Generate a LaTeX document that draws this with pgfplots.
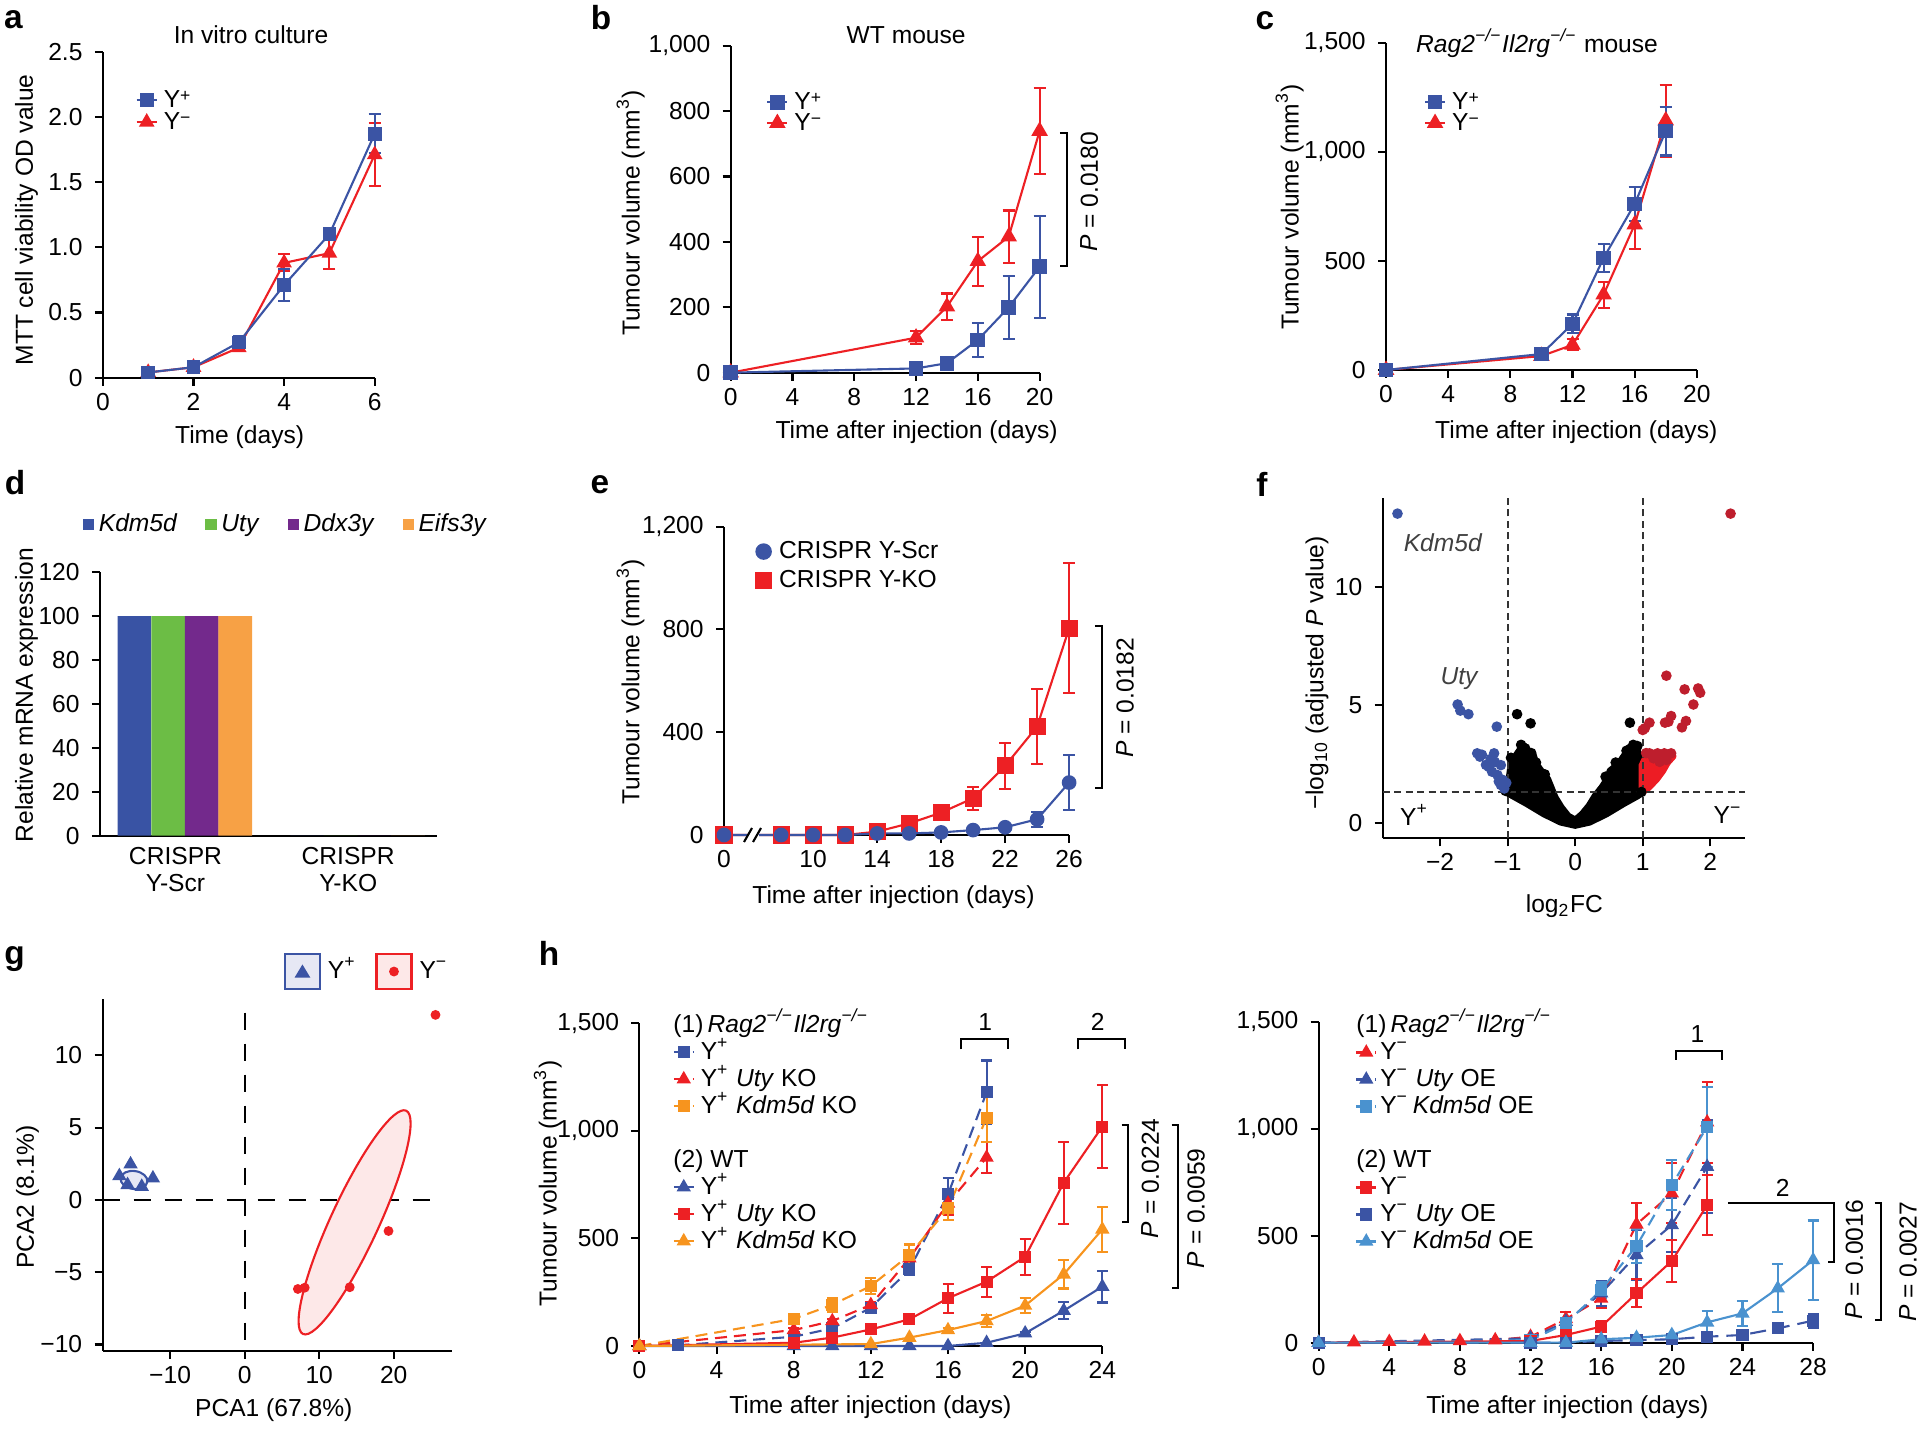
\documentclass[border=0pt]{standalone}
\usepackage{fontspec}
\setmainfont{Liberation Sans}
\usepackage{pgfplots}
\pgfplotsset{compat=1.18}

\definecolor{cblue}{RGB}{59,84,164}
\definecolor{cred}{RGB}{237,32,36}
\definecolor{corange}{RGB}{247,148,30}
\definecolor{clblue}{RGB}{74,146,207}
\definecolor{dblue}{RGB}{57,83,164}
\definecolor{dgreen}{RGB}{108,189,69}
\definecolor{dpurple}{RGB}{115,41,140}
\definecolor{dorange}{RGB}{247,161,69}
\definecolor{fred}{RGB}{190,30,45}
\definecolor{fbright}{RGB}{237,28,36}
\definecolor{gpink}{RGB}{253,232,232}
\definecolor{glblue}{RGB}{230,232,244}
\definecolor{fgrey}{RGB}{64,64,64}

\newcommand\fs{\fontsize{7}{8.4}\selectfont}
% small raised sign, kept inside the cap height
\newcommand\sgn[1]{\raisebox{1.6pt}{\fontsize{5}{5}\selectfont #1}}

\pgfplotsset{
  nat/.style={
    scale only axis, clip=false, anchor=south west,
    axis x line=bottom, axis y line=left,
    axis line style={-, line width=0.6pt},
    tick style={line width=0.6pt, black},
    tick align=outside, major tick length=0.8mm,
    tick label style={font=\fs},
    xticklabel style={yshift=0.5mm},
    label style={font=\fs},
    title style={font=\fs},
    every axis title shift=0pt,
    /pgf/number format/assume math mode=true,
    legend style={font=\fs, draw=none, fill=none, inner sep=0pt, row sep=0.2mm,
      nodes={inner sep=0pt, text height=1.7mm, text depth=0.3mm},
      /tikz/every odd column/.append style={column sep=0.6mm}},
    legend cell align=left,
    legend image code/.code={\draw[mark repeat=2, mark phase=2, #1] plot coordinates {(0mm,0mm) (1mm,0mm) (2mm,0mm)};},
    every axis plot/.append style={line width=0.6pt},
  },
  twoleg/.style={legend style={row sep=0.2mm, nodes={inner sep=0pt, text height=1.7mm, text depth=0.3mm}}},
  eb/.style={
    error bars/y dir=both, error bars/y explicit,
    error bars/error bar style={line width=0.6pt, solid},
    error bars/error mark options={rotate=90, mark size=0.6mm, line width=0.6pt, solid},
  },
  ebh/.style={
    error bars/y dir=both, error bars/y explicit,
    error bars/error bar style={line width=0.6pt, solid},
    error bars/error mark options={rotate=90, mark size=0.55mm, line width=0.6pt, solid},
  },
  rdash/.style={dash pattern=on 1.2mm off 0.7mm, mark options={solid}},
}

\begin{document}
\begin{tikzpicture}
\path[use as bounding box] (0,0) rectangle (192.3mm,143mm);

% ---------------- a
\begin{axis}[nat, twoleg, at={(10.29mm,105.23mm)}, width=27.18mm, height=32.6mm,
  xmin=0, xmax=6, ymin=0, ymax=2.5,
  xtick={0,2,4,6}, xticklabels={0,2,4,6},
  ytick={0,0.5,1,1.5,2,2.5}, yticklabels={0,0.5,1.0,1.5,2.0,2.5},
  xlabel={Time (days)}, xlabel style={at={(axis description cs:0.503,-0.182)}, anchor=center},
  ylabel={MTT cell viability OD value}, ylabel style={at={(axis description cs:-0.281,0.484)}, anchor=center},
  title={In vitro culture}, title style={at={(axis description cs:0.545,1.051)}, anchor=center},
  legend style={at={(axis description cs:0.118,0.884)}, anchor=north west},
  reverse legend]
\addplot[cred, mark=triangle*, mark size=0.7mm, eb] coordinates {
  (1,0.04) +- (0,0.01) (2,0.08) +- (0,0.01) (3,0.23) +- (0,0.025)
  (4,0.88) +- (0,0.065) (5,0.955) +- (0,0.125) (6,1.71) +- (0,0.24)};
\addlegendentry{Y\sgn{−}}
\addplot[cblue, mark=square*, mark size=0.58mm, eb] coordinates {
  (1,0.04) +- (0,0.01) (2,0.08) +- (0,0.01) (3,0.27) +- (0,0.05)
  (4,0.71) +- (0,0.125) (5,1.10) +- (0,0.02) (6,1.87) +- (0,0.15)};
\addlegendentry{Y\sgn{+}}
\end{axis}

% ---------------- b
\begin{axis}[nat, twoleg, at={(73.07mm,105.73mm)}, width=30.89mm, height=32.7mm,
  xmin=0, xmax=20, ymin=0, ymax=1000,
  xtick={0,4,8,12,16,20}, xticklabels={0,4,8,12,16,20},
  ytick={0,200,400,600,800,1000}, yticklabels={0,200,400,600,800,{1,000}},
  xlabel={Time after injection (days)}, xlabel style={at={(axis description cs:0.602,-0.181)}, anchor=center},
  ylabel={Tumour volume (mm\textsuperscript{3})}, ylabel style={at={(axis description cs:-0.324,0.488)}, anchor=center},
  title={WT mouse}, title style={at={(axis description cs:0.568,1.033)}, anchor=center},
  legend style={at={(axis description cs:0.113,0.860)}, anchor=north west, row sep=0.1mm},
  reverse legend]
\addplot[cred, mark=triangle*, mark size=0.75mm, eb] coordinates {
  (0,0) (12,107) +- (0,20) (14,202) +- (0,40) (16,341) +- (0,75)
  (18,416) +- (0,80) (20,739) +- (0,131)};
\addlegendentry{Y\sgn{−}}
\addplot[cblue, mark=square*, mark size=0.63mm, eb] coordinates {
  (0,0) (12,13) +- (0,5) (14,29) +- (0,15) (16,100) +- (0,53)
  (18,200) +- (0,96) (20,324) +- (0,156)};
\addlegendentry{Y\sgn{+}}
\end{axis}

% ---------------- c
\begin{axis}[nat, twoleg, at={(138.6mm,106.0mm)}, width=31.08mm, height=32.73mm,
  xmin=0, xmax=20, ymin=0, ymax=1500,
  xtick={0,4,8,12,16,20}, xticklabels={0,4,8,12,16,20},
  ytick={0,500,1000,1500}, yticklabels={0,500,{1,000},{1,500}},
  xlabel={Time after injection (days)}, xlabel style={at={(axis description cs:0.612,-0.189)}, anchor=center},
  ylabel={Tumour volume (mm\textsuperscript{3})}, ylabel style={at={(axis description cs:-0.310,0.498)}, anchor=center},
  title={\textit{Rag2\textsuperscript{−/−}Il2rg\textsuperscript{−/−}} mouse}, title style={at={(axis description cs:0.486,0.999)}, anchor=center},
  legend style={at={(axis description cs:0.120,0.851)}, anchor=north west, row sep=0.1mm},
  reverse legend]
\addplot[cred, mark=triangle*, mark size=0.75mm, eb] coordinates {
  (0,0) (10,64) +- (0,5) (12,115) +- (0,25) (14,345) +- (0,60)
  (16,666) +- (0,111) (18,1143) +- (0,165)};
\addlegendentry{Y\sgn{−}}
\addplot[cblue, mark=square*, mark size=0.63mm, eb] coordinates {
  (0,0) (10,73) +- (0,8) (12,211) +- (0,43) (14,513) +- (0,63)
  (16,761) +- (0,78) (18,1095) +- (0,112)};
\addlegendentry{Y\sgn{+}}
\end{axis}

% ---------------- d
\begin{axis}[nat, at={(10.0mm,59.43mm)}, width=33.68mm, height=26.34mm,
  xmin=-0.437, xmax=1.513, ymin=0, ymax=120,
  xtick={0,1}, xticklabels={{CRISPR\\Y-Scr},{CRISPR\\Y-KO}},
  xticklabel style={align=center, font=\fontsize{7}{7.6}\selectfont, yshift=0.35mm},
  x tick style={draw=none},
  ytick={0,20,40,60,80,100,120}, yticklabels={0,20,40,60,80,100,120},
  ylabel={Relative mRNA expression}, ylabel style={at={(axis description cs:-0.218,0.534)}, anchor=center},
  legend columns=4,
  legend style={at={(axis description cs:-0.053,1.18)}, anchor=west,
    /tikz/every odd column/.append style={column sep=0.45mm},
    /tikz/every even column/.append style={column sep=2.8mm}}]
\addplot[ybar, bar width=0.1945, bar shift=0pt, fill=dblue, draw=none,
  legend image code/.code={\fill[dblue] (0mm,-0.55mm) rectangle (1.15mm,0.6mm);}]
  coordinates {(-0.238,100) (0.762,0)};
\addlegendentry{\textit{Kdm5d}}
\addplot[ybar, bar width=0.1945, bar shift=0pt, fill=dgreen, draw=none,
  legend image code/.code={\fill[dgreen] (0mm,-0.55mm) rectangle (1.15mm,0.6mm);}]
  coordinates {(-0.043,100) (0.957,0)};
\addlegendentry{\textit{Uty}}
\addplot[ybar, bar width=0.1945, bar shift=0pt, fill=dpurple, draw=none,
  legend image code/.code={\fill[dpurple] (0mm,-0.55mm) rectangle (1.15mm,0.6mm);}]
  coordinates {(0.152,100) (1.152,0)};
\addlegendentry{\textit{Ddx3y}}
\addplot[ybar, bar width=0.1945, bar shift=0pt, fill=dorange, draw=none,
  legend image code/.code={\fill[dorange] (0mm,-0.55mm) rectangle (1.15mm,0.6mm);}]
  coordinates {(0.346,100) (1.346,0)};
\addlegendentry{\textit{Eifs3y}}
\end{axis}

% ---------------- e
\begin{axis}[nat, at={(72.4mm,59.5mm)}, width=34.51mm, height=30.83mm,
  xmin=4.43, xmax=26, ymin=0, ymax=1200,
  xtick={4.43,10,14,18,22,26}, xticklabels={0,10,14,18,22,26},
  ytick={0,400,800,1200}, yticklabels={0,400,800,{1,200}},
  xlabel={Time after injection (days)}, xlabel style={at={(axis description cs:0.491,-0.200)}, anchor=center},
  ylabel={Tumour volume (mm\textsuperscript{3})}, ylabel style={at={(axis description cs:-0.271,0.497)}, anchor=center},
  legend style={at={(axis description cs:0.088,0.954)}, anchor=north west, row sep=0.9mm,
    /tikz/every odd column/.append style={column sep=0.7mm}},
  reverse legend]
\addplot[cred, mark=square*, mark size=0.75mm, eb,
  legend image code/.code={\fill[cred] (0mm,-0.75mm) rectangle (1.5mm,0.75mm);}] coordinates {
  (4.43,0) (8,0) (10,0) (12,0) (14,13) (16,45) (18,87) +- (0,22) (20,143) +- (0,45)
  (22,269) +- (0,90) (24,422) +- (0,146) (26,804) +- (0,253)};
\addlegendentry{CRISPR Y-KO}
\addplot[cblue, mark=*, mark size=0.63mm, eb,
  legend image code/.code={\fill[cblue] (0.75mm,0mm) circle (0.72mm);}] coordinates {
  (4.43,0) (8,0) (10,0) (12,0) (14,6) (16,6) (18,10) (20,19) (22,30)
  (24,61) +- (0,30) (26,204) +- (0,106)};
\addlegendentry{CRISPR Y-Scr}
\end{axis}

% ---------------- f
\begin{axis}[nat, at={(138.26mm,59.17mm)}, width=36.28mm, height=34.0mm,
  xmin=-2.85, xmax=2.52, ymin=-0.66, ymax=13.75,
  xtick={-2,-1,0,1,2}, xticklabels={−2,−1,0,1,2},
  ytick={0,5,10}, yticklabels={0,5,10},
  xlabel={log\textsubscript{2}FC}, xlabel style={at={(axis description cs:0.501,-0.201)}, anchor=center},
  ylabel={−log\textsubscript{10} (adjusted \textit{P} value)}, ylabel style={at={(axis description cs:-0.181,0.486)}, anchor=center}]
\addplot[fill=black, draw=black, line width=1.2pt, line join=round] coordinates {
  (-1.03,1.24) (-1.00,1.81) (-0.97,2.44) (-0.91,2.80) (-0.81,3.22) (-0.75,3.32)
  (-0.69,3.08) (-0.60,2.87) (-0.56,2.51) (-0.47,2.16) (-0.39,1.88) (-0.34,1.53)
  (-0.28,1.10) (-0.19,0.68) (-0.09,0.32) (0,0.18) (0.09,0.40) (0.19,0.75)
  (0.28,1.17) (0.38,1.53) (0.46,1.88) (0.50,2.23) (0.59,2.44) (0.66,2.66)
  (0.71,2.87) (0.78,3.22) (0.85,3.32) (0.91,3.22) (0.96,2.94) (0.98,2.37)
  (1.00,1.24) (0.94,1.10) (0.72,0.75) (0.47,0.32) (0.22,-0.03) (0,-0.17)
  (-0.22,-0.03) (-0.47,0.32) (-0.72,0.75) (-0.94,1.10)} -- cycle;
\addplot[only marks, mark=*, mark size=0.42mm, black] coordinates {
  (-0.86,4.60) (-0.66,4.21) (0.81,4.24) (-0.80,3.30) (-0.74,3.15) (-0.95,2.75)
  (-0.65,2.95) (0.86,3.30) (0.92,3.25) (0.76,3.05) (0.60,2.55) (-0.58,2.55)
  (-0.45,2.05) (0.45,1.95) (-1.03,1.35) (0.98,1.30)};
\addplot[fill=fbright, draw=fbright, line width=1.2pt, line join=round] coordinates {
  (0.97,1.24) (0.97,2.44) (1.03,2.80) (1.16,3.00) (1.44,3.00) (1.47,2.80)
  (1.38,2.51) (1.31,2.16) (1.22,1.81) (1.10,1.45) (1.00,1.24)} -- cycle;
\addplot[only marks, mark=*, mark size=0.42mm, fred] coordinates {
  (2.30,13.1) (1.35,6.23) (1.62,5.65) (1.82,5.69) (1.85,5.51) (1.75,5.01)
  (1.42,4.52) (1.33,4.24) (1.38,4.28) (1.10,4.24) (1.64,4.31) (1.58,4.04)
  (1.00,3.93) (1.03,4.00) (1.10,2.94) (1.22,2.94) (1.32,2.94) (1.42,2.94)
  (1.35,2.66) (1.25,2.58) (1.16,2.73) (1.05,2.95)};
\addplot[only marks, mark=*, mark size=0.42mm, cblue] coordinates {
  (-2.63,13.1) (-1.74,5.01) (-1.70,4.75) (-1.58,4.60) (-1.16,4.07) (-1.45,2.94)
  (-1.41,2.80) (-1.38,2.88) (-1.20,2.94) (-1.28,2.37) (-1.19,2.58) (-1.10,2.44)
  (-1.23,2.16) (-1.15,2.02) (-1.07,1.81) (-1.10,1.60) (-1.05,1.45) (-1.02,1.69)
  (-1.13,1.75) (-1.32,2.45) (-1.25,2.70)};
\addplot[black!80, dash pattern=on 0.7mm off 0.45mm, line width=0.6pt] coordinates {(-1,-0.66) (-1,13.75)};
\addplot[black!80, dash pattern=on 0.7mm off 0.45mm, line width=0.6pt] coordinates {(1,-0.66) (1,13.75)};
\addplot[black!80, dash pattern=on 0.7mm off 0.45mm, line width=0.6pt] coordinates {(-2.85,1.31) (2.52,1.31)};
\node[font=\fs\itshape, text=fgrey] at (axis cs:-1.96,11.86) {Kdm5d};
\node[font=\fs\itshape, text=fgrey] at (axis cs:-1.72,6.1) {Uty};
\node[font=\fs] at (axis cs:-2.38,0.32) {Y\textsuperscript{+}};
\node[font=\fs] at (axis cs:2.26,0.32) {Y\textsuperscript{−}};
\end{axis}

% ---------------- g
\begin{axis}[nat, at={(10.26mm,7.9mm)}, width=34.93mm, height=35.2mm,
  xmin=-19.05, xmax=27.8, ymin=-10.45, ymax=13.9,
  xtick={-10,0,10,20}, xticklabels={−10,0,10,20},
  ytick={-10,-5,0,5,10}, yticklabels={−10,−5,0,5,10},
  xlabel={PCA1 (67.8\%)}, xlabel style={at={(axis description cs:0.490,-0.168)}, anchor=center},
  ylabel={PCA2 (8.1\%)}, ylabel style={at={(axis description cs:-0.215,0.438)}, anchor=center},
  legend columns=2,
  legend style={at={(axis description cs:0.517,1.078)}, anchor=west,
    /tikz/every odd column/.append style={column sep=0.7mm},
    /tikz/every even column/.append style={column sep=1.9mm}}]
\addplot[forget plot, black, dash pattern=on 1.7mm off 1.4mm, line width=0.6pt] coordinates {(0,12.96) (0,-10.45)};
\addplot[forget plot, black, dash pattern=on 1.7mm off 1.4mm, line width=0.6pt] coordinates {(-19.05,0) (26.3,0)};
\draw[cred, fill=gpink, line width=0.6pt, rotate around={65.2:(axis cs:14.75,-1.55)}] (axis cs:14.75,-1.55) ellipse [x radius=12.3mm, y radius=2.4mm];
\draw[cblue, fill=glblue, line width=0.6pt, rotate around={-8:(axis cs:-14.84,1.38)}] (axis cs:-14.84,1.38) ellipse [x radius=1.35mm, y radius=0.9mm];
\addplot[only marks, cblue, mark=triangle*, mark size=0.62mm,
  legend image code/.code={\draw[cblue, fill=glblue, line width=0.6pt] (0mm,-1.75mm) rectangle (3.5mm,1.75mm); \fill[cblue] (1.75mm,0.5mm) -- (1.15mm,-0.5mm) -- (2.35mm,-0.5mm) -- cycle;}]
  coordinates {(-15.3,2.47) (-16.8,1.66) (-12.3,1.5) (-15.7,1.04) (-13.8,0.92)};
\addlegendentry{Y\textsuperscript{+}}
\addplot[only marks, cred, mark=*, mark size=0.38mm,
  legend image code/.code={\draw[cred, fill=gpink, line width=0.6pt] (0mm,-1.75mm) rectangle (3.5mm,1.75mm); \fill[cred] (1.75mm,0mm) circle (0.38mm);}]
  coordinates {(25.6,12.8) (19.3,-2.15) (14.1,-6.04) (7.14,-6.16) (8.06,-6.07)};
\addlegendentry{Y\textsuperscript{−}}
\end{axis}

% ---------------- h left
\begin{axis}[nat, at={(63.94mm,8.4mm)}, width=46.29mm, height=32.27mm,
  xmin=0, xmax=24, ymin=0, ymax=1500,
  xtick={0,4,8,12,16,20,24}, xticklabels={0,4,8,12,16,20,24},
  ytick={0,500,1000,1500}, yticklabels={0,500,{1,000},{1,500}},
  xlabel={Time after injection (days)}, xlabel style={at={(axis description cs:0.499,-0.191)}, anchor=center},
  ylabel={Tumour volume (mm\textsuperscript{3})}, ylabel style={at={(axis description cs:-0.198,0.504)}, anchor=center},
  legend style={at={(axis description cs:0.0704,1.0273)}, anchor=north west, row sep=0.7mm}]
\addlegendimage{empty legend}
\addlegendentry{\hspace*{-2.74mm}(1)\,\textit{Rag2\textsuperscript{−/−}Il2rg\textsuperscript{−/−}}}
\addplot[cblue, rdash, mark=square*, mark size=0.5mm, ebh] coordinates {
  (0,0) (2,3) (8,43) +- (0,8) (10,82) +- (0,10) (12,178) +- (0,18)
  (14,356) +- (0,28) (16,705) +- (0,76) (18,1179) +- (0,148)};
\addlegendentry{Y\textsuperscript{+}}
\addplot[cred, rdash, mark=triangle*, mark size=0.62mm, ebh] coordinates {
  (0,0) (8,74) +- (0,8) (10,116) +- (0,10) (12,191) +- (0,15)
  (14,408) +- (0,25) (16,663) +- (0,55) (18,876) +- (0,73)};
\addlegendentry{Y\textsuperscript{+} \textit{Uty} KO}
\addplot[corange, rdash, mark=square*, mark size=0.5mm, ebh] coordinates {
  (0,0) (8,126) +- (0,10) (10,191) +- (0,31) (12,279) +- (0,37)
  (14,423) +- (0,49) (16,640) +- (0,55) (18,1061) +- (0,113)};
\addlegendentry{Y\textsuperscript{+} \textit{Kdm5d} KO}
\addlegendimage{empty legend}
\addlegendentry{}
\addlegendimage{empty legend}
\addlegendentry{\hspace*{-2.74mm}(2) WT}
\addplot[cblue, mark=triangle*, mark size=0.62mm, ebh] coordinates {
  (0,0) (8,0) (10,0) (12,0) (14,0) (16,0) (18,15) (20,59) +- (0,8)
  (22,164) +- (0,40) (24,276) +- (0,74)};
\addlegendentry{Y\textsuperscript{+}}
\addplot[cred, mark=square*, mark size=0.5mm, ebh] coordinates {
  (0,0) (8,15) (10,39) (12,77) +- (0,8) (14,124) +- (0,22) (16,222) +- (0,67)
  (18,299) +- (0,70) (20,415) +- (0,84) (22,759) +- (0,190) (24,1020) +- (0,194)};
\addlegendentry{Y\textsuperscript{+} \textit{Uty} KO}
\addplot[corange, mark=triangle*, mark size=0.62mm, ebh] coordinates {
  (0,0) (12,9) (14,39) (16,74) +- (0,8) (18,116) +- (0,27) (20,188) +- (0,35)
  (22,333) +- (0,66) (24,542) +- (0,105)};
\addlegendentry{Y\textsuperscript{+} \textit{Kdm5d} KO}
\end{axis}

% ---------------- h right
\begin{axis}[nat, at={(131.86mm,8.73mm)}, width=49.45mm, height=32.1mm,
  xmin=0, xmax=28, ymin=0, ymax=1500,
  xtick={0,4,8,12,16,20,24,28}, xticklabels={0,4,8,12,16,20,24,28},
  ytick={0,500,1000,1500}, yticklabels={0,500,{1,000},{1,500}},
  xlabel={Time after injection (days)}, xlabel style={at={(axis description cs:0.503,-0.202)}, anchor=center},
  legend style={at={(axis description cs:0.0726,1.0215)}, anchor=north west, row sep=0.7mm,
    /tikz/every odd column/.append style={column sep=0.3mm}}]
\addlegendimage{empty legend}
\addlegendentry{\hspace*{-2.39mm}(1)\,\textit{Rag2\textsuperscript{−/−}Il2rg\textsuperscript{−/−}}}
\addplot[cred, rdash, mark=triangle*, mark size=0.62mm, ebh] coordinates {
  (0,0) (2,2) (4,4) (6,6) (8,8) (10,12) (12,28) +- (0,8) (14,111) +- (0,31)
  (16,207) +- (0,43) (18,553) +- (0,99) (20,698) +- (0,140) (22,1030) +- (0,190)};
\addlegendentry{Y\textsuperscript{−}}
\addplot[cblue, rdash, mark=triangle*, mark size=0.62mm, ebh] coordinates {
  (0,0) (12,20) +- (0,6) (14,98) +- (0,15) (16,231) +- (0,58)
  (18,410) +- (0,117) (20,550) +- (0,125) (22,822) +- (0,218)};
\addlegendentry{Y\textsuperscript{−} \textit{Uty} OE}
\addplot[clblue, rdash, mark=square*, mark size=0.5mm, ebh] coordinates {
  (0,0) (12,12) +- (0,8) (14,90) +- (0,15) (16,246) +- (0,35)
  (18,452) +- (0,78) (20,737) +- (0,117) (22,1009) +- (0,187)};
\addlegendentry{Y\textsuperscript{−}\,\textit{Kdm5d} OE}
\addlegendimage{empty legend}
\addlegendentry{}
\addlegendimage{empty legend}
\addlegendentry{\hspace*{-2.39mm}(2) WT}
\addplot[cred, mark=square*, mark size=0.5mm, ebh] coordinates {
  (0,0) (12,8) (14,36) +- (0,10) (16,75) +- (0,24) (18,231) +- (0,65)
  (20,382) +- (0,98) (22,643) +- (0,140)};
\addlegendentry{Y\textsuperscript{−}}
\addplot[cblue, dash pattern=on 1.6mm off 0.8mm, mark options={solid}, mark=square*, mark size=0.5mm, ebh] coordinates {
  (0,0) (12,0) (14,0) (16,8) (18,12) (20,16) (22,28) (24,36) +- (0,8)
  (26,67) +- (0,15) (28,103) +- (0,33)};
\addlegendentry{Y\textsuperscript{−} \textit{Uty} OE}
\addplot[clblue, mark=triangle*, mark size=0.62mm, ebh] coordinates {
  (0,0) (12,0) (14,0) (16,16) (18,23) (20,36) (22,95) +- (0,52)
  (24,137) +- (0,58) (26,254) +- (0,112) (28,386) +- (0,185)};
\addlegendentry{Y\textsuperscript{−}\,\textit{Kdm5d} OE}
\end{axis}

% ---------------- annotations (pixel coordinates, y downwards)
\begin{scope}[x=0.1mm, y=-0.1mm, shift={(0mm,143mm)}, line width=0.6pt, every node/.style={font=\fs}]
\begin{scope}[every node/.style={font=\fontsize{9.5}{10}\selectfont\bfseries}]
\node at (13.5,19.5) {a};
\node at (601,17.5) {b};
\node at (1265,20.5) {c};
\node at (15,483) {d};
\node at (600,485) {e};
\node at (1262,484) {f};
\node at (14.5,959) {g};
\node at (549,953) {h};
\end{scope}
% b
\draw (1059.9,133) -- (1067.4,133) -- (1067.4,266) -- (1059.9,266);
\node[rotate=90] at (1089.3,192) {\textit{P} = 0.0180};
% e
\draw (1094.8,625.7) -- (1101.9,625.7) -- (1101.9,788.3) -- (1094.8,788.3);
\node[rotate=90] at (1125,698) {\textit{P} = 0.0182};
\fill[white] (748,829) rectangle (759,841);
\draw (744,842) -- (752,828);
\draw (753,842) -- (761,828);
% h left
\draw (960.8,1049.3) -- (960.8,1039.3) -- (1007.6,1039.3) -- (1007.6,1049.3);
\node at (985.3,1021.7) {1};
\draw (1078.2,1049.3) -- (1078.2,1039.3) -- (1124.6,1039.3) -- (1124.6,1049.3);
\node at (1097.8,1021.7) {2};
\draw (1121.5,1125) -- (1128.2,1125) -- (1128.2,1221.7) -- (1121.5,1221.7);
\node[rotate=90] at (1150.5,1178.3) {\textit{P} = 0.0224};
\draw (1171.5,1125) -- (1178.2,1125) -- (1178.2,1287.7) -- (1171.5,1287.7);
\node[rotate=90] at (1196,1208.3) {\textit{P} = 0.0059};
% h right
\draw (1675.9,1060) -- (1675.9,1050.7) -- (1722.1,1050.7) -- (1722.1,1060);
\node at (1697.4,1034) {1};
\draw (1727.9,1203.3) -- (1834.2,1203.3) -- (1834.2,1261.7) -- (1827.5,1261.7);
\node at (1782.6,1188.3) {2};
\draw (1874.5,1203.3) -- (1881.2,1203.3) -- (1881.2,1320) -- (1874.5,1320);
\node[rotate=90] at (1854.3,1260) {\textit{P} = 0.0016};
\node[rotate=90] at (1908.1,1262) {\textit{P} = 0.0027};
\end{scope}
\end{tikzpicture}
\end{document}
